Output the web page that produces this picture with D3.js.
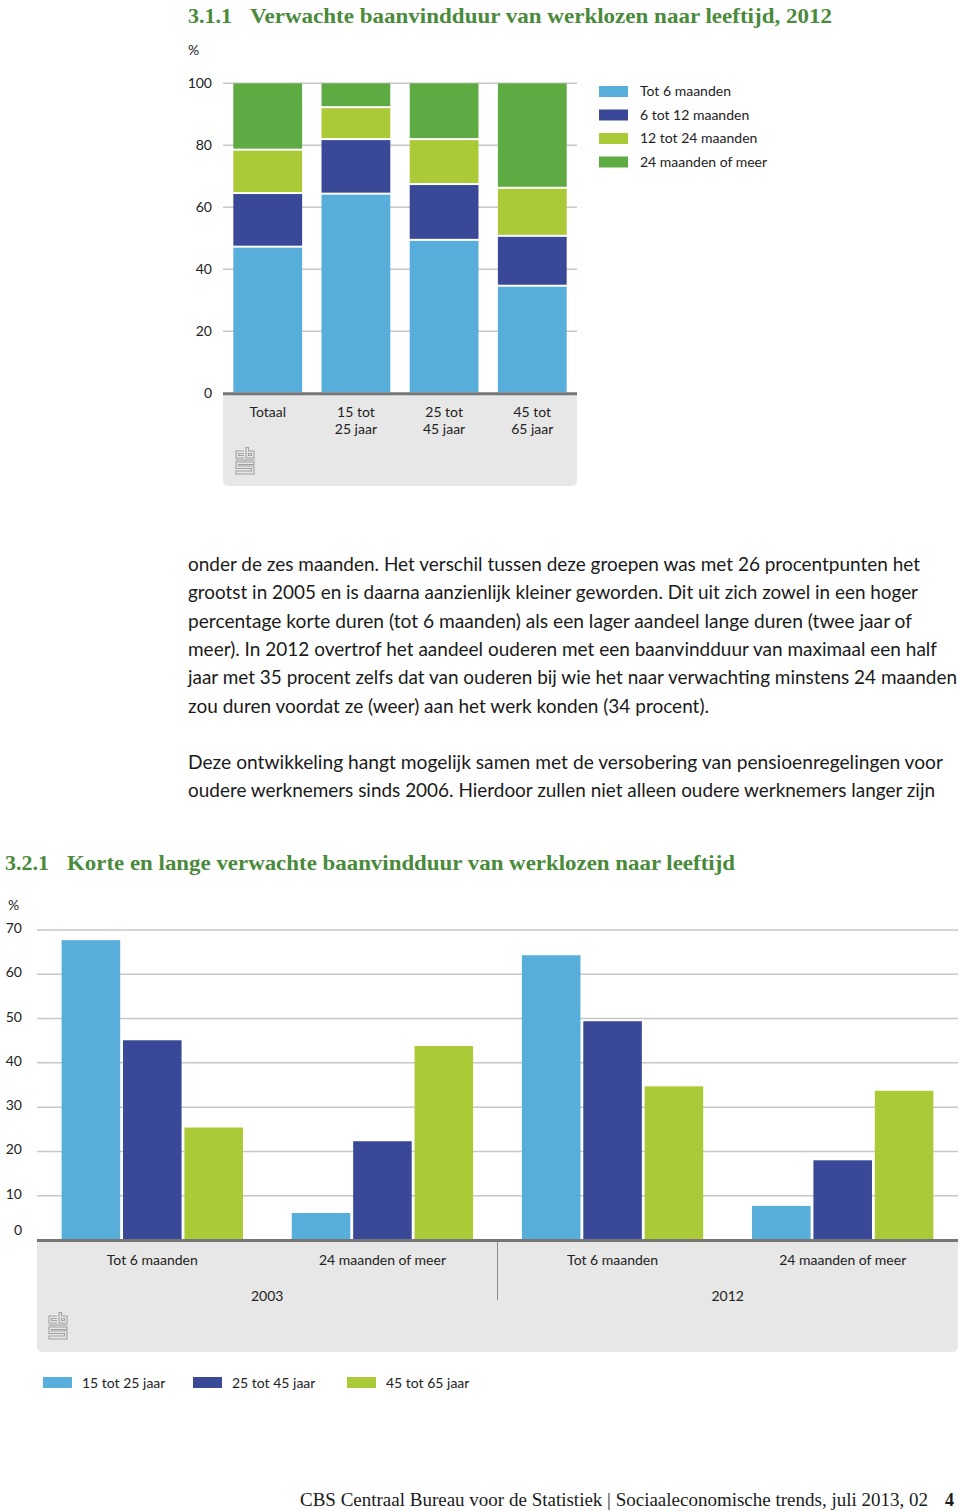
<!DOCTYPE html>
<html><head><meta charset="utf-8">
<script src="https://cdn.jsdelivr.net/npm/d3@7/dist/d3.min.js"></script>
<style>body{margin:0;background:#fff}svg{display:block}</style>
</head><body>
<svg id="c" width="960" height="1512"></svg>
<script>
// ---------- DATA ----------
const topCategories = ["Totaal", "15 tot 25 jaar", "25 tot 45 jaar", "45 tot 65 jaar"];
const topCategoryLabels = [["Totaal"], ["15 tot", "25 jaar"], ["25 tot", "45 jaar"], ["45 tot", "65 jaar"]];
const topSeries = ["Tot 6 maanden", "6 tot 12 maanden", "12 tot 24 maanden", "24 maanden of meer"];
const tot6 = [47.3, 64.4, 49.5, 34.7];
const m6tot12 = [17.3, 17.6, 18.0, 16.1];
const m12tot24 = [14.0, 10.3, 14.5, 15.5];
const m24plus = [21.4, 7.7, 18.0, 33.7];
const topTicks = [0, 20, 40, 60, 80, 100];

const bottomGroups = ["2003|Tot 6 maanden", "2003|24 maanden of meer", "2012|Tot 6 maanden", "2012|24 maanden of meer"];
const bottomGroupLabels = ["Tot 6 maanden", "24 maanden of meer", "Tot 6 maanden", "24 maanden of meer"];
const bottomYears = ["2003", "2012"];
const bottomSeries = ["15 tot 25 jaar", "25 tot 45 jaar", "45 tot 65 jaar"];
const age15_25 = [67.7, 6.1, 64.3, 7.7];
const age25_45 = [45.1, 22.3, 49.4, 18.0];
const age45_65 = [25.4, 43.8, 34.7, 33.7];
const bottomTicks = [0, 10, 20, 30, 40, 50, 60, 70];

const bodyLines = [
  "onder de zes maanden. Het verschil tussen deze groepen was met 26 procentpunten het",
  "grootst in 2005 en is daarna aanzienlijk kleiner geworden. Dit uit zich zowel in een hoger",
  "percentage korte duren (tot 6 maanden) als een lager aandeel lange duren (twee jaar of",
  "meer). In 2012 overtrof het aandeel ouderen met een baanvindduur van maximaal een half",
  "jaar met 35 procent zelfs dat van ouderen bij wie het naar verwachting minstens 24 maanden",
  "zou duren voordat ze (weer) aan het werk konden (34 procent).",
  "",
  "Deze ontwikkeling hangt mogelijk samen met de versobering van pensioenregelingen voor",
  "oudere werknemers sinds 2006. Hierdoor zullen niet alleen oudere werknemers langer zijn"
];
const bodyLineWidths = [732, 730, 724, 749, 769, 521, 0, 755, 747];

// ---------- STYLE ----------
const topColors = ["#58aedb", "#3a4997", "#aacb37", "#5fab43"];
const bottomColors = ["#58aedb", "#3a4997", "#aacb37"];
const sans = "Lato, 'Open Sans', sans-serif";
const serif = "'Liberation Serif', 'DejaVu Serif', serif";
const titleGreen = "#4a8a3b";
const textCol = "#222";

const svg = d3.select("#c");

function title(num, rest, x, y, restX, restW) {
  svg.append("text").attr("x", x).attr("y", y).attr("font-family", serif)
    .attr("font-weight", "bold").attr("font-size", 22).attr("fill", titleGreen).text(num);
  svg.append("text").attr("x", restX).attr("y", y).attr("font-family", serif)
    .attr("font-weight", "bold").attr("font-size", 22).attr("fill", titleGreen)
    .attr("textLength", restW).attr("lengthAdjust", "spacingAndGlyphs").text(rest);
}

function bottomRounded(g, x, y, w, h, r) {
  g.append("path").attr("fill", "#e7e7e7")
    .attr("d", `M${x},${y} H${x + w} V${y + h - r} Q${x + w},${y + h} ${x + w - r},${y + h} H${x + r} Q${x},${y + h} ${x},${y + h - r} Z`);
}

function logo(g, x, y) {
  const s = g.append("g").attr("transform", `translate(${x},${y})`)
    .attr("fill", "none").attr("stroke", "#a0a0a0").attr("stroke-width", 1.1);
  s.append("path").attr("d", "M9,4 H1 V11 H9 M9,6.5 H3.5 V8.5 H9");
  s.append("path").attr("d", "M11,0.5 V11 H19 V4 H13.5 V0.5 Z M13.5,6.5 H16.5 V8.5 H13.5 Z");
  s.append("path").attr("d", "M0.5,13 H19.5");
  s.append("path").attr("d", "M19,15 H1 V21.5 H16.5 V24 H1 V27 H19 V19 H3.5 V17.5 H19 Z");
}

// ---------- TOP CHART ----------
title("3.1.1", "Verwachte baanvindduur van werklozen naar leeftijd, 2012", 188, 23, 250, 582);

const yT = d3.scaleLinear().domain([0, 100]).range([393.3, 83.3]);
const xT = d3.scaleBand().domain(topCategories).range([223, 577]).paddingInner(0.22).paddingOuter(0.117);

const topG = svg.append("g");
bottomRounded(topG, 223, 394, 354, 92, 6);
topG.selectAll(".gt").data(topTicks.filter(d => d > 0)).join("line")
  .attr("x1", 223).attr("x2", 577).attr("y1", d => yT(d)).attr("y2", d => yT(d))
  .attr("stroke", "#c8c8c8").attr("stroke-width", 1.5);
const yAxisT = d3.axisLeft(yT).tickValues(topTicks).tickSize(0).tickPadding(0);
const ya = topG.append("g").attr("transform", "translate(212,0)").call(yAxisT);
ya.select(".domain").remove();
ya.selectAll("text").attr("font-family", sans).attr("font-size", 14).attr("fill", textCol);
topG.append("text").attr("x", 188).attr("y", 55).attr("font-family", sans).attr("font-size", 14)
  .attr("fill", textCol).text("%");

const topRows = topCategories.map((c, i) => ({
  cat: c, [topSeries[0]]: tot6[i], [topSeries[1]]: m6tot12[i], [topSeries[2]]: m12tot24[i], [topSeries[3]]: m24plus[i]
}));
const stackT = d3.stack().keys(topSeries)(topRows);
stackT.forEach((layer, li) => {
  topG.selectAll(null).data(layer).join("rect")
    .attr("x", d => xT(d.data.cat)).attr("width", xT.bandwidth())
    .attr("y", d => yT(d[1]) + (li === 3 ? 0 : 1))
    .attr("height", d => yT(d[0]) - yT(d[1]) - (li === 3 ? 1 : 2))
    .attr("fill", topColors[li]);
});
topG.append("line").attr("x1", 223).attr("x2", 577).attr("y1", yT(0) + 0.5).attr("y2", yT(0) + 0.5)
  .attr("stroke", "#767676").attr("stroke-width", 3);
topCategories.forEach((c, i) => {
  const t = topG.append("text").attr("x", xT(c) + xT.bandwidth() / 2).attr("y", 417)
    .attr("text-anchor", "middle").attr("font-family", sans).attr("font-size", 14).attr("fill", textCol);
  topCategoryLabels[i].forEach((l, j) => t.append("tspan").attr("x", xT(c) + xT.bandwidth() / 2)
    .attr("dy", j === 0 ? 0 : 17).text(l));
});
logo(topG, 235, 447);
topSeries.forEach((s, i) => {
  const yy = 86 + i * 23.5;
  topG.append("rect").attr("x", 599).attr("y", yy).attr("width", 29).attr("height", 11).attr("fill", topColors[i]);
  topG.append("text").attr("x", 640).attr("y", yy + 10).attr("font-family", sans).attr("font-size", 14)
    .attr("fill", textCol).text(s);
});

// ---------- BODY TEXT ----------
bodyLines.forEach((l, i) => {
  if (!l) return;
  svg.append("text").attr("x", 188).attr("y", 571 + i * 28.3).attr("font-family", sans)
    .attr("font-size", 19).attr("fill", "#1a1a1a")
    .attr("textLength", bodyLineWidths[i]).attr("lengthAdjust", "spacingAndGlyphs").text(l);
});

// ---------- BOTTOM CHART ----------
title("3.2.1", "Korte en lange verwachte baanvindduur van werklozen naar leeftijd", 5, 870, 67, 668);

const yB = d3.scaleLinear().domain([0, 70]).range([1240, 930]);
const x0 = d3.scaleBand().domain(bottomGroups).range([37, 958]).paddingInner(0.212).paddingOuter(0.107);
const x1 = d3.scaleBand().domain(bottomSeries).range([0, x0.bandwidth()]).paddingInner(0.046);

const bot = svg.append("g");
bottomRounded(bot, 37, 1241, 921, 111, 6);
bot.selectAll(".gb").data(bottomTicks.filter(d => d > 0)).join("line")
  .attr("x1", 37).attr("x2", 958).attr("y1", d => yB(d)).attr("y2", d => yB(d))
  .attr("stroke", "#c8c8c8").attr("stroke-width", 1.5);
bottomTicks.forEach(t => {
  bot.append("text").attr("x", 22).attr("y", yB(t) + (t === 0 ? -5 : 3)).attr("text-anchor", "end")
    .attr("font-family", sans).attr("font-size", 14).attr("fill", textCol).text(t);
});
bot.append("text").attr("x", 8).attr("y", 910).attr("font-family", sans).attr("font-size", 14)
  .attr("fill", textCol).text("%");

const seriesVals = [age15_25, age25_45, age45_65];
bottomSeries.forEach((s, si) => {
  bot.selectAll(null).data(bottomGroups.map((g, gi) => ({ g, v: seriesVals[si][gi] }))).join("rect")
    .attr("x", d => x0(d.g) + x1(s)).attr("width", x1.bandwidth())
    .attr("y", d => yB(d.v)).attr("height", d => yB(0) - yB(d.v))
    .attr("fill", bottomColors[si]);
});
bot.append("line").attr("x1", 37).attr("x2", 958).attr("y1", yB(0) + 0.5).attr("y2", yB(0) + 0.5)
  .attr("stroke", "#767676").attr("stroke-width", 3);
const divX = (x0(bottomGroups[1]) + x0.bandwidth() + x0(bottomGroups[2])) / 2;
bot.append("line").attr("x1", divX).attr("x2", divX).attr("y1", 1242).attr("y2", 1300)
  .attr("stroke", "#8a8a8a").attr("stroke-width", 1);
bottomGroups.forEach((g, i) => {
  bot.append("text").attr("x", x0(g) + x0.bandwidth() / 2).attr("y", 1265).attr("text-anchor", "middle")
    .attr("font-family", sans).attr("font-size", 14).attr("fill", textCol).text(bottomGroupLabels[i]);
});
bottomYears.forEach((y, i) => {
  const cx = i === 0 ? (37 + divX) / 2 : (divX + 958) / 2;
  bot.append("text").attr("x", cx).attr("y", 1301).attr("text-anchor", "middle")
    .attr("font-family", sans).attr("font-size", 14).attr("fill", textCol).text(y);
});
logo(bot, 48, 1312);
const legX = [43, 193, 347];
bottomSeries.forEach((s, i) => {
  bot.append("rect").attr("x", legX[i]).attr("y", 1377).attr("width", 29).attr("height", 11).attr("fill", bottomColors[i]);
  bot.append("text").attr("x", legX[i] + 39).attr("y", 1388).attr("font-family", sans).attr("font-size", 14)
    .attr("fill", textCol).text(s);
});

// ---------- FOOTER ----------
svg.append("text").attr("x", 300).attr("y", 1506).attr("font-family", serif).attr("font-size", 18)
  .attr("fill", "#1a1a1a").attr("textLength", 628).attr("lengthAdjust", "spacingAndGlyphs")
  .text("CBS Centraal Bureau voor de Statistiek | Sociaaleconomische trends, juli 2013, 02");
svg.append("text").attr("x", 945).attr("y", 1506).attr("font-family", serif).attr("font-size", 18)
  .attr("font-weight", "bold").attr("fill", "#1a1a1a").text("4");
</script></body></html>
